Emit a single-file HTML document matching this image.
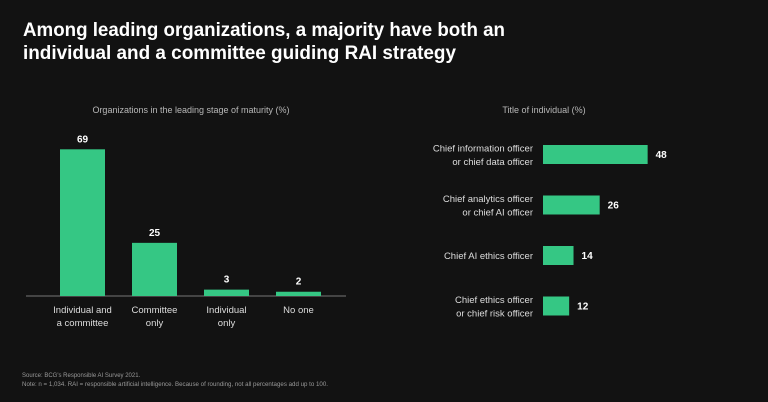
<!DOCTYPE html>
<html><head><meta charset="utf-8"><style>
html,body{margin:0;padding:0;background:#121212;}
svg{display:block;font-family:"Liberation Sans",sans-serif;}
</style></head><body>
<svg id="c" width="768" height="402" viewBox="0 0 768 402">
<rect width="768" height="402" fill="#121212"/>
<text x="23" y="36" fill="#fff" font-size="19" font-weight="bold" textLength="482" lengthAdjust="spacingAndGlyphs">Among leading organizations, a majority have both an</text>
<text x="23" y="59" fill="#fff" font-size="19" font-weight="bold" textLength="433" lengthAdjust="spacingAndGlyphs">individual and a committee guiding RAI strategy</text>
<text x="191" y="113" fill="#b8b8b8" font-size="9" text-anchor="middle">Organizations in the leading stage of maturity (%)</text>
<text x="544" y="113" fill="#b8b8b8" font-size="9" text-anchor="middle">Title of individual (%)</text>
<line x1="26" y1="296" x2="346" y2="296" stroke="#777" stroke-width="1"/>
<g id="left"></g><g id="right"></g>
<text x="22" y="377" fill="#999" font-size="6">Source: BCG's Responsible AI Survey 2021.</text>
<text x="22" y="386" fill="#999" font-size="6" textLength="306" lengthAdjust="spacingAndGlyphs">Note: n = 1,034. RAI = responsible artificial intelligence. Because of rounding, not all percentages add up to 100.</text>
</svg>
<script>
const leftCategories = [["Individual and","a committee"],["Committee","only"],["Individual","only"],["No one"]];
const leftValues = [69, 25, 3, 2];
const rightCategories = [["Chief information officer","or chief data officer"],["Chief analytics officer","or chief AI officer"],["Chief AI ethics officer"],["Chief ethics officer","or chief risk officer"]];
const rightValues = [48, 26, 14, 12];

const NS="http://www.w3.org/2000/svg";
const GREEN="#35c784";
function mk(tag,attrs,parent,txt){const e=document.createElementNS(NS,tag);for(const k in attrs)e.setAttribute(k,attrs[k]);if(txt!==undefined)e.textContent=txt;parent.appendChild(e);return e;}
const yL=v=>296-v*2.126;
const xL=i=>60+i*72;
const gl=document.getElementById('left');
leftValues.forEach((v,i)=>{
  const b=mk('rect',{x:xL(i),y:yL(v),width:45,height:296-yL(v),fill:GREEN},gl);
  
  
  const t=mk('text',{x:xL(i)+22.5,y:yL(v)-7,fill:'#fff','font-size':10,'font-weight':'bold','text-anchor':'middle'},gl,v);
  
  
  leftCategories[i].forEach((s,j)=>{
    const c=mk('text',{x:xL(i)+22.5,y:313+j*13,fill:'#ddd','font-size':9.5,'text-anchor':'middle'},gl,s);
    
    
  });
});
const xR=v=>543+v*2.18;
const yR=i=>145+i*50.5;
const gr=document.getElementById('right');
rightValues.forEach((v,i)=>{
  const b=mk('rect',{x:543,y:yR(i),width:xR(v)-543,height:19,fill:GREEN},gr);
  
  
  const t=mk('text',{x:xR(v)+8,y:yR(i)+13,fill:'#fff','font-size':10,'font-weight':'bold'},gr,v);
  
  
  const lines=rightCategories[i];
  const cy=yR(i)+9.5;
  lines.forEach((s,j)=>{
    const y=cy+3.5+(j-(lines.length-1)/2)*13.5;
    const c=mk('text',{x:533,y:y,fill:'#ddd','font-size':9.5,'text-anchor':'end'},gr,s);
    
    
  });
});
</script>
</body></html>
